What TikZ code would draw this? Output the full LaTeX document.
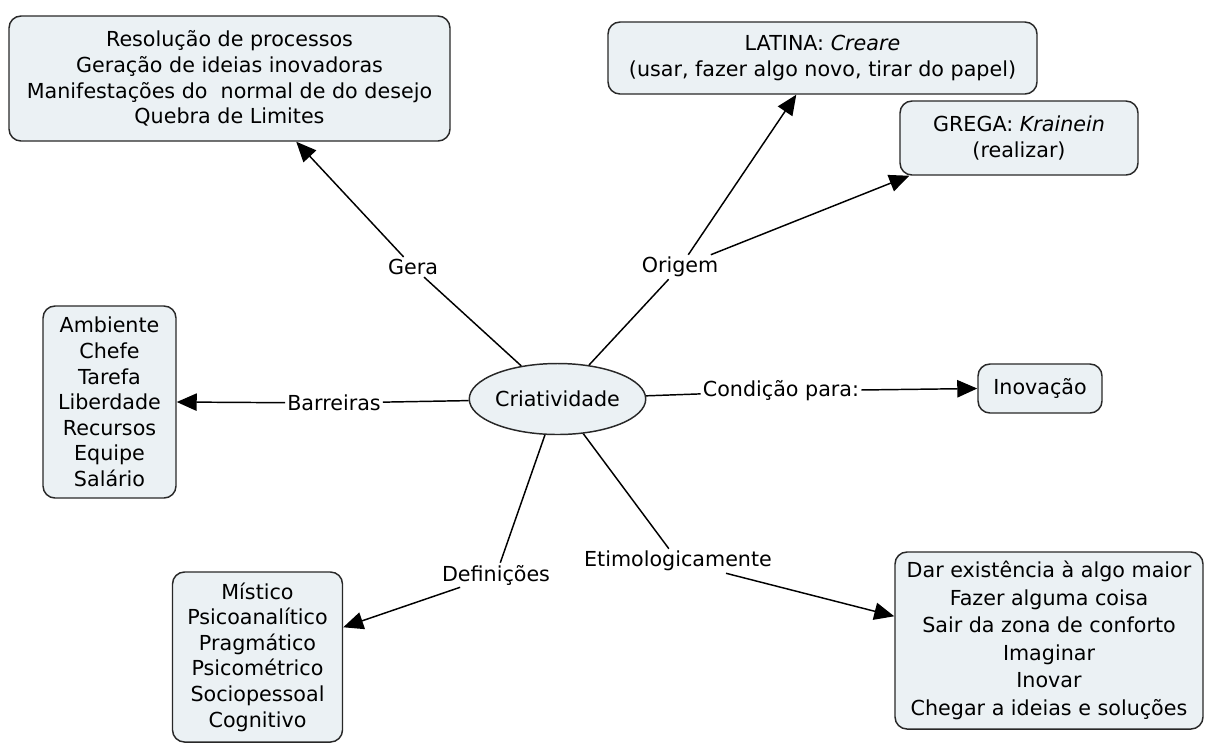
\documentclass[tikz,border=0pt]{standalone}
\usepackage{fontspec}
\setmainfont{DejaVu Sans}
\usetikzlibrary{shapes.geometric,arrows.meta,calc}
\definecolor{boxfill}{RGB}{235,241,244}
\definecolor{edgecol}{RGB}{40,40,40}
\begin{document}
\begin{tikzpicture}[x=0.75pt,y=-0.75pt,
  font=\fontsize{15.5}{19.2}\selectfont,
  box/.style={draw=edgecol, line width=1.1pt, fill=boxfill, rounded corners=9pt, align=center, inner sep=0pt},
  concept/.style={draw=edgecol, line width=1.1pt, fill=boxfill, ellipse, inner sep=0pt},
  lbl/.style={inner sep=1.5pt, align=center},
  link/.style={draw=black, line width=1.1pt},
  arr/.style={link, -{Triangle[length=15pt,width=13pt]}}]
\useasboundingbox (0,0) rectangle (1206,744);

% concept nodes
\node[box, minimum width=330.75pt, minimum height=93.75pt] (tl) at (229.5,78.5)
  {Resolução de processos\\Geração de ideias inovadoras\\Manifestações do~ normal de do desejo\\Quebra de Limites};
\node[box, minimum width=321.75pt, minimum height=54pt] (lat) at (822.5,58)
  {LATINA: \textit{Creare}\\(usar, fazer algo novo, tirar do papel)};
\node[box, minimum width=178.5pt, minimum height=55.5pt] (gre) at (1019,138)
  {GREGA: \textit{Krainein}\\(realizar)};
\node[box, minimum width=99.75pt, minimum height=144pt] (bl) at (109.5,402)
  {Ambiente\\Chefe\\Tarefa\\Liberdade\\Recursos\\Equipe\\Salário};
\node[box, minimum width=93pt, minimum height=36.75pt] (inov) at (1040,388.5) {Inovação};
\node[box, minimum width=127.5pt, minimum height=127.5pt] (mis) at (257.5,657)
  {Místico\\Psicoanalítico\\Pragmático\\Psicométrico\\Sociopessoal\\Cognitivo};
\node[box, minimum width=231pt, minimum height=132.75pt, font=\fontsize{15.5}{20.6}\selectfont] (etb) at (1049,640.5)
  {Dar existência à algo maior\\Fazer alguma coisa\\Sair da zona de conforto\\Imaginar\\Inovar\\Chegar a ideias e soluções};
\node[concept, minimum width=117.75pt, minimum height=53.25pt] (crea) at (557.5,399) {Criatividade};

% linking phrases
\node[lbl] (gera) at (413,267) {Gera};
\node[lbl] (orig) at (680,267) {Origem};
\node[lbl] (barr) at (334,403) {Barreiras};
\node[lbl] (cond) at (781,391) {Condição para:};
\node[lbl] (def) at (496,575) {Definições};
\node[lbl] (etl) at (678,561) {Etimologicamente};

% connectors
\draw[link] (crea) -- (gera);
\draw[arr] (gera) -- ($(tl.south west)+(288,0)$);
\draw[link] (crea) -- (orig);
\draw[arr] (orig) -- ($(lat.south west)+(189,0)$);
\draw[arr] (orig) -- ($(gre.south west)+(10,0)$);
\draw[link] (crea) -- (barr);
\draw[arr] (barr) -- (bl.east);
\draw[link] (crea) -- (cond);
\draw[arr] (cond) -- (inov.west);
\draw[link] (crea) -- (def);
\draw[arr] (def) -- ($(mis.north east)+(0,56)$);
\draw[link] (crea) -- (etl);
\draw[arr] (etl) -- ($(etb.north west)+(0,65)$);
\end{tikzpicture}
\end{document}
